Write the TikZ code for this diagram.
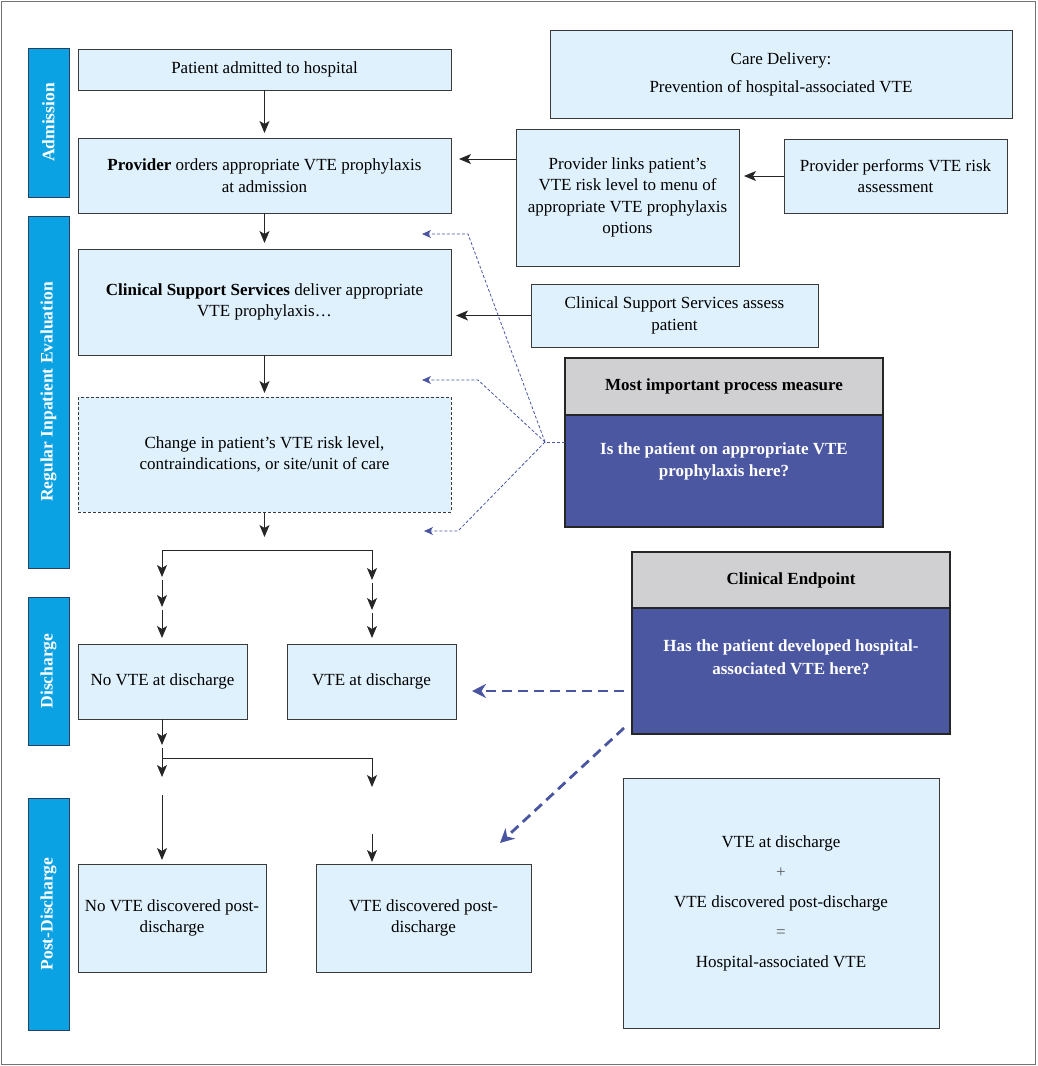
\documentclass[tikz,border=0pt]{standalone}
\usepackage{fontspec}
\setmainfont{Liberation Serif}
\usetikzlibrary{arrows.meta,calc}
\definecolor{lightbox}{HTML}{DFF1FC}
\definecolor{sidebar}{HTML}{0AA2E2}
\definecolor{sideedge}{HTML}{2A4060}
\definecolor{boxedge}{HTML}{3A3A3A}
\definecolor{hdrgray}{HTML}{D0D0D2}
\definecolor{darkblue}{HTML}{4B57A0}
\definecolor{dashblue}{HTML}{4A55A2}
\begin{document}
\begin{tikzpicture}[x=1pt,y=-1pt,
  every node/.style={inner sep=0pt,outer sep=0pt,font=\fontsize{17}{21.5}\selectfont,align=center},
  lbox/.style={draw=boxedge,line width=0.9pt,fill=lightbox,rectangle},
  sbar/.style={draw=sideedge,line width=0.9pt,fill=sidebar,rectangle,text=white,font=\fontsize{17.5}{20}\selectfont\bfseries,minimum width=41pt},
  hbox/.style={draw=black!85,line width=1.3pt,fill=hdrgray,rectangle,minimum width=318pt,font=\fontsize{17}{21}\selectfont\bfseries},
  bbox/.style={draw=black!85,line width=1.3pt,fill=darkblue,rectangle,minimum width=318pt},
  arr/.style={draw=black!85,line width=1pt,-{Stealth[length=12pt,width=10pt,inset=3pt]}},
  plain/.style={draw=black!85,line width=1pt},
  thindash/.style={draw=dashblue,line width=0.8pt,dash pattern=on 3pt off 2pt},
  thinarr/.style={thindash,-{Stealth[length=9pt,width=8pt,inset=2.5pt,fill=dashblue]}},
  thickarr/.style={draw=dashblue,line width=2.8pt,dash pattern=on 10pt off 6pt,-{Stealth[length=14pt,width=14pt,inset=4.5pt]}}
]
\useasboundingbox (0,0) rectangle (1037,1066);
\draw[draw=black!55,line width=1.5pt] (1.5,1.5) rectangle (1035.5,1064.5);

% side bars
\node[sbar,minimum height=149pt] (sbA) at (48.5,122.5) {\rotatebox{90}{Admission}};
\node[sbar,minimum height=352pt] (sbR) at (48.5,392) {\rotatebox{90}{Regular Inpatient Evaluation}};
\node[sbar,minimum height=148pt] (sbD) at (48.5,671) {\rotatebox{90}{Discharge}};
\node[sbar,minimum height=232pt] (sbP) at (48.5,914) {\rotatebox{90}{Post-Discharge}};

% main column
\node[lbox,minimum width=373pt,minimum height=41pt] (adm) at (264.5,69.5) {Patient admitted to hospital};
\node[lbox,minimum width=373pt,minimum height=75pt] (ord) at (264.5,175.5) {\textbf{Provider} orders appropriate VTE prophylaxis\\at admission};
\node[lbox,minimum width=373pt,minimum height=106pt] (css) at (264.5,302) {\textbf{Clinical Support Services} deliver appropriate\\VTE prophylaxis\ldots};
\node[lbox,draw=none,minimum width=373pt,minimum height=115pt] (chg) at (264.5,454.5) {Change in patient’s VTE risk level,\\contraindications, or site/unit of care};
\draw[draw=boxedge,line width=0.9pt,dash pattern=on 3pt off 2pt] (chg.north west) rectangle (chg.south east);

% right column
\node[lbox,minimum width=462pt,minimum height=88pt,font=\fontsize{17}{28}\selectfont] (care) at (781,74) {Care Delivery:\\Prevention of hospital-associated VTE};
\node[lbox,minimum width=223pt,minimum height=137pt] (links) at (627.5,197.5) {Provider links patient’s\\VTE risk level to menu of\\appropriate VTE prophylaxis\\options};
\node[lbox,minimum width=223pt,minimum height=74pt] (perf) at (895.5,176) {Provider performs VTE risk\\assessment};
\node[lbox,minimum width=287pt,minimum height=63pt] (assess) at (674.5,315.5) {Clinical Support Services assess\\patient};

\node[bbox,minimum height=112pt] (mib) at (724,471) {};
\node[text=white,font=\fontsize{17}{22}\selectfont\bfseries] (mibt) at (724,461) {Is the patient on appropriate VTE\\prophylaxis here?};
\node[hbox,minimum height=57pt] (mih) at (724,386.5) {Most important process measure};

\node[bbox,minimum height=126pt] (ceb) at (791,671) {};
\node[text=white,font=\fontsize{17}{23}\selectfont\bfseries] (cebt) at (791,657) {Has the patient developed hospital-\\associated VTE here?};
\node[hbox,minimum height=56pt] (ceh) at (791,580) {Clinical Endpoint};

% discharge / post-discharge
\node[lbox,minimum width=169pt,minimum height=75pt] (novte) at (162.5,681.5) {No VTE at discharge};
\node[lbox,minimum width=169pt,minimum height=75pt] (vte) at (371.5,681.5) {VTE at discharge};
\node[lbox,minimum width=188pt,minimum height=108pt] (nopost) at (172,918) {No VTE discovered post-\\discharge};
\node[lbox,minimum width=215pt,minimum height=108pt] (vtepost) at (423.5,918) {VTE discovered post-\\discharge};
\node[lbox,minimum width=316pt,minimum height=250pt,font=\fontsize{17}{30}\selectfont] (sum) at (781,903) {VTE at discharge\\{\color{black!65}+}\\VTE discovered post-discharge\\{\color{black!65}=}\\Hospital-associated VTE};

% main flow arrows
\draw[arr,shorten >=5pt] (adm.south) -- (ord.north);
\draw[arr,shorten >=6pt] (ord.south) -- (css.north);
\draw[arr,shorten >=4pt] (css.south) -- (chg.north);
\draw[arr,shorten >=8pt] ([yshift=38.5pt]links.west) -- ([yshift=38.5pt]links.west -| ord.east);
\draw[arr,shorten >=5pt] (perf.west) -- (perf.west -| links.east);
\draw[arr,shorten >=5pt] (assess.west) -- (assess.west -| css.east);

% branch to discharge
\coordinate (c1) at (264.5,537);
\coordinate (bL) at (162,550);
\coordinate (bR) at (372,550);
\draw[arr] (chg.south) -- (c1);
\draw[plain] (bL) -- (bR);
\coordinate (l1) at (162,577); \coordinate (l2) at (162,580); \coordinate (l3) at (162,607);
\coordinate (l4) at (162,610);
\draw[arr] (bL) -- (l1);
\draw[arr] (l2) -- (l3);
\draw[arr,shorten >=6pt] (l4) -- (novte.north -| l4);
\coordinate (r1) at (372,580); \coordinate (r2) at (372,583); \coordinate (r3) at (372,610);
\coordinate (r4) at (372,613);
\draw[arr] (bR) -- (r1);
\draw[arr] (r2) -- (r3);
\draw[arr,shorten >=6pt] (r4) -- (vte.north -| r4);

% branch to post-discharge
\coordinate (d1) at (162,745); \coordinate (d2) at (162,748); \coordinate (d3) at (162,777);
\coordinate (dj) at (162,758); \coordinate (dr) at (372,758); \coordinate (dr2) at (372,787);
\draw[arr] (novte.south -| d1) -- (d1);
\draw[arr] (d2) -- (d3);
\draw[plain] (dj) -- (dr);
\draw[arr] (dr) -- (dr2);
\coordinate (p1) at (162,795); \coordinate (p2) at (372,834);
\draw[arr,shorten >=4pt] (p1) -- (nopost.north -| p1);
\draw[arr,shorten >=2pt] (p2) -- (vtepost.north -| p2);

% thin dashed blue connectors
\coordinate (J) at (545,442);
\coordinate (t1) at (468,234); \coordinate (t1e) at (422,234);
\coordinate (t2) at (478,380); \coordinate (t2e) at (422,380);
\coordinate (t3) at (458,531); \coordinate (t3e) at (424,531);
\draw[thindash] ([yshift=29pt]mib.west) -- (J);
\draw[thinarr] (J) -- (t1) -- (t1e);
\draw[thinarr] (J) -- (t2) -- (t2e);
\draw[thinarr] (J) -- (t3) -- (t3e);

% thick dashed blue connectors
\coordinate (k1) at (472,691);
\coordinate (k2) at (500,843);
\draw[thickarr] ([xshift=-8pt,yshift=-20pt]ceb.west) -- (k1);
\draw[thickarr] ([xshift=-8pt,yshift=-57pt]ceb.west) -- (k2);
\end{tikzpicture}
\end{document}
